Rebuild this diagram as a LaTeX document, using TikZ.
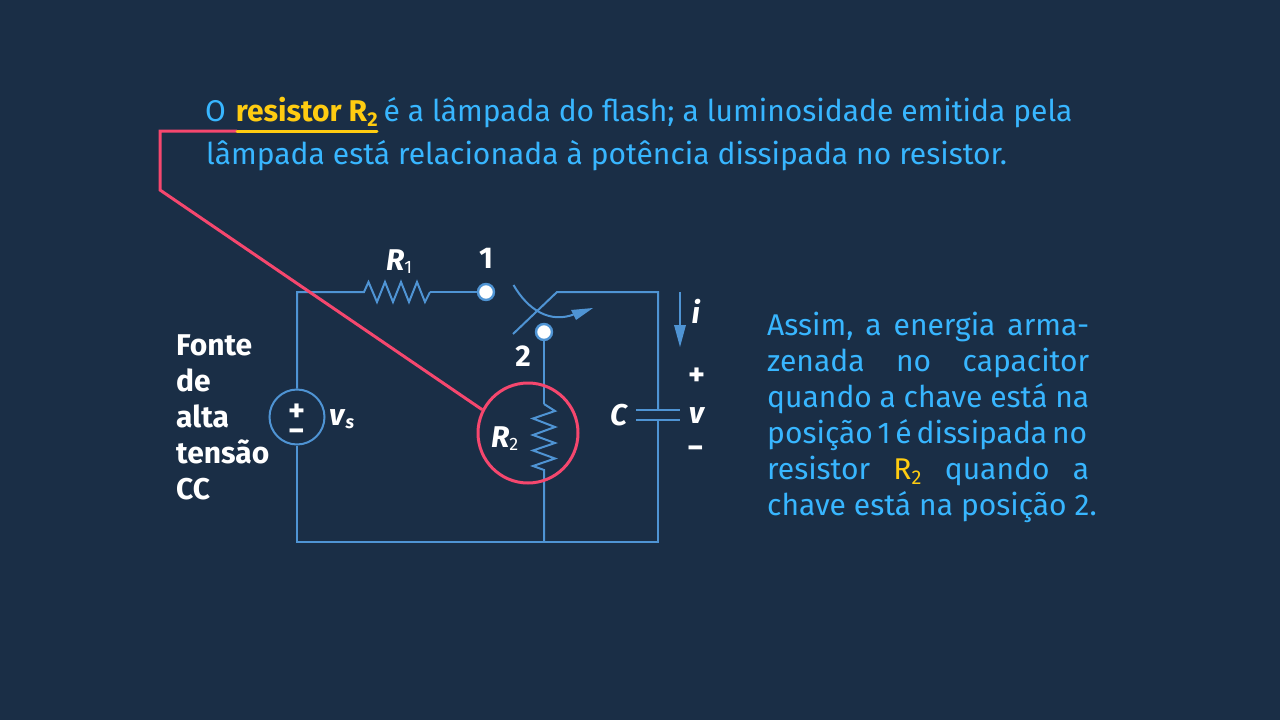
\documentclass[tikz,border=0pt]{standalone}
\usepackage{fontspec}
\setmainfont{Fira Sans}
\definecolor{bgc}{HTML}{1A2E46}
\definecolor{wirec}{HTML}{4F94D4}
\definecolor{redc}{HTML}{F5476E}
\definecolor{yelc}{HTML}{FFCC11}
\definecolor{txtc}{HTML}{38B6FF}
\tikzset{
  wire/.style={draw=wirec,line width=2pt,line join=miter},
  redline/.style={draw=redc,line width=3pt,line join=miter},
  terminal/.style={circle,draw=wirec,fill=white,line width=2.4pt,minimum size=16pt,inner sep=0pt},
  pt/.style={inner sep=0pt,minimum size=0pt},
  bluetxt/.style={anchor=base west,inner sep=0pt,text=txtc,font=\fontsize{30}{30}\selectfont},
  sidetxt/.style={anchor=base west,inner sep=0pt,text=txtc,font=\fontsize{30}{30}\selectfont},
  whitetxt/.style={anchor=base west,inner sep=0pt,text=white,font=\fontsize{30}{30}\selectfont\bfseries},
  labeltxt/.style={anchor=base,inner sep=0pt,text=white,font=\fontsize{30}{30}\selectfont\bfseries},
  signtxt/.style={anchor=base,inner sep=0pt,text=white,font=\fontsize{32}{32}\selectfont\bfseries},
}
\newcommand{\sbs}[1]{\raisebox{-5pt}{\fontsize{20}{20}\selectfont #1}}
\begin{document}
\begin{tikzpicture}[x=1pt,y=-1pt]
\useasboundingbox (0,0) rectangle (1280,720);
\fill[bgc] (0,0) rectangle (1280,720);
% text
\node[bluetxt] (t1) at (205,121) {O\hspace{2pt} \textcolor{yelc}{\textbf{resistor R\sbs{2}}}\hspace{-2pt} é a lâmpada do flash; a luminosidade emitida pela};
\node[bluetxt] (t2) at (206,164) {lâmpada está relacionada à potência dissipada no resistor.};
\node[sidetxt] (s1) at (767,335) {\hbox to 322pt{Assim,\hfill a\hfill energia\hfill arma-}};
\node[sidetxt] (s2) at (767,371) {\hbox to 322pt{zenada\hfill no\hfill capacitor}};
\node[sidetxt] (s3) at (767,407) {\hbox to 322pt{quando\hfill a\hfill chave\hfill está\hfill na}};
\node[sidetxt] (s4) at (767,443) {\hbox to 320pt{posição\hfill 1\hfill é\hfill dissipada\hfill no}};
\node[sidetxt] (s5) at (767,479) {\hbox to 322pt{resistor\hfill \textcolor{yelc}{R\sbs{2}}\hfill quando\hfill a}};
\node[sidetxt] (s6) at (767,515) {chave está na posição 2.};
\node[whitetxt] (f1) at (176,355) {Fonte};
\node[whitetxt] (f2) at (176,391) {de};
\node[whitetxt] (f3) at (176,427) {alta};
\node[whitetxt] (f4) at (176,463) {tensão};
\node[whitetxt] (f5) at (176,499) {CC};
% circuit points
\node[pt] (tl) at (297,292) {};
\node[pt] (bl) at (297,542) {};
\node[pt] (br) at (658,542) {};
\node[pt] (tr) at (658,292) {};
\node[pt] (rs) at (364,292) {};
\node[pt] (re) at (430,292) {};
\node[pt] (swa) at (513,334) {};
\node[pt] (swb) at (557,292) {};
\node[pt] (r2a) at (544,404) {};
\node[pt] (r2b) at (544,470) {};
\node[pt] (r2c) at (544,542) {};
\node[pt] (c1) at (658,410) {};
\node[pt] (c2) at (658,420) {};
\node[circle,draw=wirec,line width=2pt,minimum size=55pt,inner sep=0pt] (vs) at (297,417) {};
\draw[wire] (vs.north) -- (tl.center) -- (rs.center)
  -- (368.5,282) -- (377,302) -- (385,282) -- (393,302) -- (401,282) -- (409,302) -- (417,282) -- (425,302) -- (re.center);
\draw[wire] (vs.south) -- (bl.center) -- (br.center) -- (c2.center);
\draw[wire] (c1.center) -- (tr.center) -- (swb.center) -- (swa.center);
\draw[wire] (r2a.center) -- (555,411) -- (533,418.5) -- (555,427) -- (533,435) -- (555,443) -- (533,450.5) -- (555,458.5) -- (533,466) -- (r2b.center) -- (r2c.center);
\draw[wire] (636,410) -- (680,410);
\draw[wire] (636,420) -- (680,420);
\node[terminal] (n1) at (486,292) {};
\node[terminal] (n2) at (544,332) {};
\draw[wire] (re.center) -- (n1);
\draw[wire] (n2) -- (r2a.center);
% switch arc
\draw[wire] (513.5,285) .. controls (528,310) and (550,324) .. (575,314);
\fill[wirec] (593,308) -- (571,310) -- (576,320) -- cycle;
% current arrow
\node[pt] (ia) at (680,292) {};
\node[pt] (ib) at (680,328) {};
\draw[wire] (ia.center) -- (ib.center);
\fill[wirec] (674,325) -- (686,325) -- (680,347) -- cycle;
% labels
\node[labeltxt] (l1) at (486,268) {1};
\node[labeltxt] (l2) at (523,366) {2};
\node[labeltxt,anchor=base west] (lr1) at (386,270) {\textit{R}\raisebox{-3pt}{\fontsize{18}{18}\selectfont\mdseries 1}};
\node[labeltxt,anchor=base west] (lr2) at (491,447) {\textit{R}\raisebox{-3pt}{\fontsize{18}{18}\selectfont\mdseries 2}};
\node[labeltxt,anchor=base west] (lvs) at (329,425) {\textit{v}\raisebox{-3pt}{\fontsize{18}{18}\selectfont\itshape s}};
\node[labeltxt] (li) at (696,323) {\textit{i}};
\node[labeltxt] (lc) at (619,425) {\textit{C}};
\node[labeltxt] (lv) at (697,423) {\textit{v}};
\node[signtxt] (lp) at (697,385) {+};
\node[signtxt] (lm) at (696,458) {−};
\node[signtxt,align=center,anchor=center] (sgn) at (297,423) {+\\[-12pt]−};
% red highlight
\node[circle,draw=redc,line width=3pt,minimum size=100pt,inner sep=0pt] (hl) at (528,433) {};
\node[pt] (u1) at (237,131) {};
\node[pt] (u2) at (377,131) {};
\node[pt] (k1) at (160,131) {};
\node[pt] (k2) at (160,190) {};
\draw[redline] (u1.center) -- (k1.center) -- (k2.center) -- (hl.153.5);
\draw[draw=yelc,line width=3pt,line cap=round] (u1.center) -- (u2.center);
\end{tikzpicture}
\end{document}
